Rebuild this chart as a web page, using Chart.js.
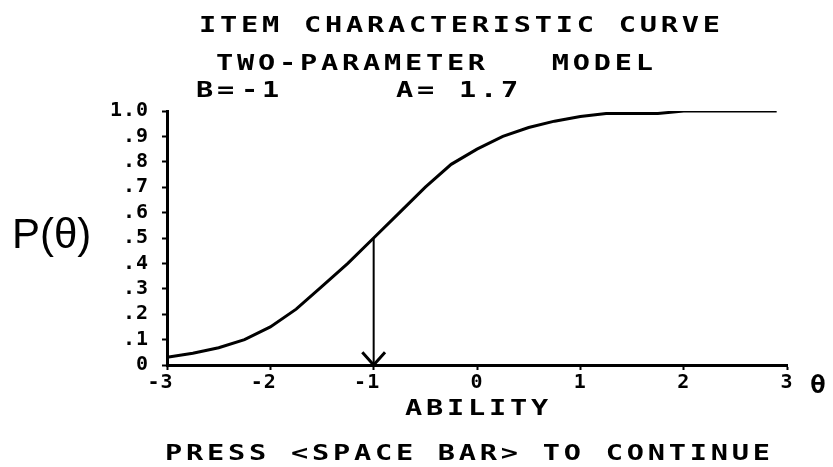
<!DOCTYPE html>
<html>
<head>
<meta charset="utf-8">
<script src="https://cdn.jsdelivr.net/npm/chart.js@4.4.1/dist/chart.umd.min.js"></script>
<style>
  html, body { margin: 0; padding: 0; background: #fff; }
</style>
</head>
<body>
<canvas id="iccChart" width="833" height="467"></canvas>
<script>
// valores (theta -> P(theta))
const thetaVals = [-3, -2.75, -2.5, -2.25, -2, -1.75, -1.5, -1.25, -1, -0.75, -0.5, -0.25, 0, 0.25, 0.5, 0.75, 1, 1.25, 1.5, 1.75, 2, 2.5, 2.9];
const probVals = [0.03, 0.046, 0.068, 0.1, 0.15, 0.22, 0.31, 0.4, 0.5, 0.6, 0.7, 0.79, 0.85, 0.9, 0.935, 0.96, 0.978, 0.99, 0.99, 0.99, 1.0, 1.0, 1.0];

const xTickVals = [-3, -2, -1, 0, 1, 2, 3];
const xTickLabels = ['-3 ', '-2 ', '-1 ', '0', '1', '2', '3'];
const yTickVals = [0, 0.1, 0.2, 0.3, 0.4, 0.5, 0.6, 0.7, 0.8, 0.9, 1.0];
const yTickLabels = ['0', '.1', '.2', '.3', '.4', '.5', '.6', '.7', '.8', '.9', '1.0'];

// parametros do item
const bParam = -1;
const aParam = 1.7;

const monoFont = '"DejaVu Sans Mono", monospace';

// escreve texto esticado na horizontal (letras largas como na tela antiga)
const wideText = (ctx, text, x, y, sx) => {
  ctx.save();
  ctx.translate(x, y);
  ctx.scale(sx, 1);
  ctx.fillText(text, 0, 0);
  ctx.restore();
};

// textos da tela (titulo, parametros, rotulos)
const screenText = {
  id: 'screenText',
  beforeDraw: (chart) => {
    chart.ctx.letterSpacing = '1px';
  },
  afterDraw: (chart) => {
    const ctx = chart.ctx;
    ctx.save();
    ctx.fillStyle = '#000';
    ctx.textAlign = 'left';
    ctx.textBaseline = 'alphabetic';
    ctx.font = `bold 22px ${monoFont}`;
    ctx.letterSpacing = '2.9px';
    wideText(ctx, 'ITEM CHARACTERISTIC CURVE', 199, 32, 1.3);
    wideText(ctx, 'TWO-PARAMETER   MODEL', 216, 70, 1.3);
    wideText(ctx, 'B=', 196, 97, 1.3);
    wideText(ctx, String(bParam), 241, 97, 1.3);
    wideText(ctx, `A= ${aParam}`, 396, 97, 1.3);
    wideText(ctx, 'ABILITY', 405, 415, 1.3);
    wideText(ctx, 'PRESS <SPACE BAR> TO CONTINUE', 165, 460, 1.3);

    ctx.font = `bold 24px ${monoFont}`;
    ctx.letterSpacing = '0px';
    wideText(ctx, 'θ', 810, 393, 1.1);

    ctx.font = '42px "Liberation Sans", sans-serif';
    ctx.fillText('P(θ)', 12, 248);
    ctx.restore();
  }
};

const tickFont = { family: monoFont, size: 20, weight: 'bold' };

const ctx = document.getElementById('iccChart').getContext('2d');
const chart = new Chart(ctx, {
  type: 'scatter',
  data: {
    datasets: [
      {
        data: thetaVals.map((t, i) => ({ x: t, y: probVals[i] })),
        showLine: true,
        borderColor: '#000',
        borderWidth: 3,
        pointRadius: 0,
        tension: 0
      },
      {
        // linha de b ate o eixo
        data: [{ x: bParam, y: 0.5 }, { x: bParam, y: 0 }],
        showLine: true,
        borderColor: '#000',
        borderWidth: 2,
        pointRadius: 0
      },
      {
        // ponta da seta
        data: [{ x: bParam - 0.11, y: 0.05 }, { x: bParam, y: 0 }, { x: bParam + 0.11, y: 0.05 }],
        showLine: true,
        borderColor: '#000',
        borderWidth: 3,
        pointRadius: 0
      }
    ]
  },
  options: {
    responsive: false,
    animation: false,
    layout: { padding: { left: 0, right: 46, top: 111, bottom: 0 } },
    plugins: {
      legend: { display: false },
      tooltip: { enabled: false }
    },
    scales: {
      x: {
        type: 'linear',
        min: -3,
        max: 3,
        afterBuildTicks: (scale) => { scale.ticks = xTickVals.map(v => ({ value: v })); },
        afterFit: (scale) => { scale.height = 102; },
        border: { color: '#000', width: 3 },
        grid: { drawOnChartArea: false, color: '#000', tickColor: '#000', tickLength: 5, tickWidth: 2 },
        ticks: {
          color: '#000',
          font: tickFont,
          padding: 1,
          maxRotation: 0,
          autoSkip: false,
          callback: (value, index) => xTickLabels[index]
        }
      },
      y: {
        min: 0,
        max: 1,
        afterBuildTicks: (scale) => { scale.ticks = yTickVals.map(v => ({ value: v })); },
        afterFit: (scale) => { scale.width = 167; },
        border: { color: '#000', width: 3 },
        grid: { drawOnChartArea: false, color: '#000', tickColor: '#000', tickLength: 5, tickWidth: 2 },
        ticks: {
          color: '#000',
          font: tickFont,
          padding: 13,
          autoSkip: false,
          callback: (value, index) => yTickLabels[index]
        }
      }
    }
  },
  plugins: [screenText]
});
</script>
</body>
</html>
